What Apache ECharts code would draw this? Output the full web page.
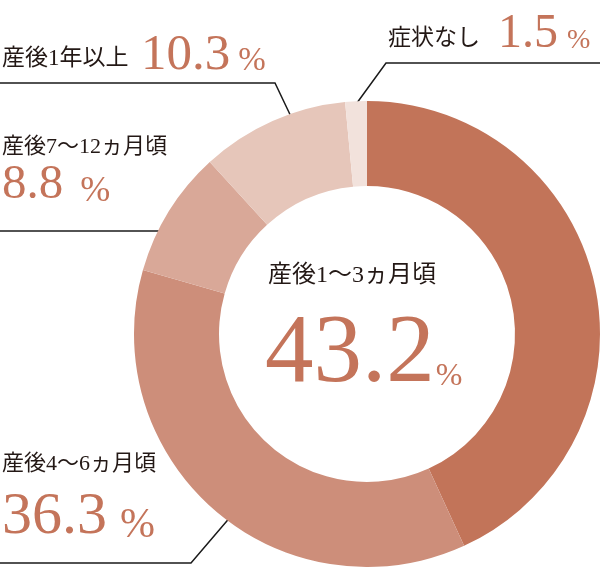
<!DOCTYPE html>
<html><head><meta charset="utf-8">
<script src="https://cdn.jsdelivr.net/npm/echarts@6/dist/echarts.min.js"></script>
<style>html,body{margin:0;padding:0;background:#fff}#c{width:600px;height:567px}</style>
</head><body><div id="c"></div>
<script>
// ---- data ----
const categories = ['産後1〜3ヵ月頃', '産後4〜6ヵ月頃', '産後7〜12ヵ月頃', '産後1年以上', '症状なし'];
const values = [43.2, 36.3, 8.8, 10.3, 1.5];
const valueTexts = ['43.2', '36.3', '8.8', '10.3', '1.5'];
const percentSign = '%';

// ---- styles / layout ----
const sliceColors = ['#c27459', '#cd8e7a', '#d9a898', '#e6c6ba', '#f2e2dc'];
const FONT = '"Liberation Serif","Noto Sans CJK JP",serif';
const INK = '#231815';
const NUM = '#c4745a';

const labelPos = [
  { x: 265, y: 245 },
  { x: 2, y: 441 },
  { x: 2, y: 134 },
  { x: 2, y: 37 },
  { x: 388, y: 20 }
];
const leaderPoints = [
  null,
  [[232, 515], [191, 563], [0, 563]],
  [[191, 231], [100, 231], [0, 231]],
  [[295, 125], [275, 83], [0, 83]],
  [[354, 107], [386, 63], [600, 63]]
];
const twoLine = [true, true, true, false, false];

function tok(fs, lh, color, va, extra) {
  return Object.assign({ fontSize: fs, lineHeight: lh, color: color, fontFamily: FONT, verticalAlign: va }, extra || {});
}
const rich = {
  n0: tok(24, 62, INK, 'middle', { padding: [0, 0, 0, 3] }),
  v0: tok(97, 97, NUM, 'bottom'),
  p0: tok(32, 53, NUM, 'bottom', { padding: [0, 0, 11, 1] }),
  n1: tok(22, 46, INK, 'middle'),
  v1: tok(60, 60, NUM, 'bottom'),
  p1: tok(42, 46, NUM, 'bottom', { padding: [0, 0, 0, 13] }),
  n2: tok(22, 27, INK, 'middle'),
  v2: tok(49, 49, NUM, 'bottom'),
  p2: tok(36, 34, NUM, 'bottom', { padding: [0, 0, 0, 17] }),
  n3: tok(23, 44, INK, 'middle', { width: 139 }),
  v3: tok(51, 44, NUM, 'bottom'),
  p3: tok(33, 38, NUM, 'bottom', { padding: [0, 0, 3, 8] }),
  n4: tok(23, 38, INK, 'middle', { width: 110 }),
  v4: tok(48, 38, NUM, 'bottom'),
  p4: tok(28, 34, NUM, 'bottom', { padding: [0, 0, 3, 9] })
};

const data = categories.map((name, i) => ({
  name: name,
  value: values[i],
  itemStyle: { color: sliceColors[i] },
  labelLine: { show: i !== 0 }
}));

const chart = echarts.init(document.getElementById('c'), null, { renderer: 'canvas' });
chart.setOption({
  animation: false,
  series: [{
    type: 'pie',
    center: [367, 334],
    radius: [148, 233],
    startAngle: 90,
    clockwise: true,
    avoidLabelOverlap: false,
    silent: true,
    data: data,
    label: {
      show: true,
      position: 'outside',
      rich: rich,
      formatter: function (p) {
        const i = p.dataIndex;
        const sep = twoLine[i] ? '\n' : '';
        return '{n' + i + '|' + p.name + '}' + sep + '{v' + i + '|' + valueTexts[i] + '}{p' + i + '|' + percentSign + '}';
      }
    },
    labelLine: {
      show: true,
      lineStyle: { color: '#1a1a1a', width: 1.5 }
    },
    labelLayout: function (params) {
      const i = params.dataIndex;
      const o = { x: labelPos[i].x, y: labelPos[i].y, align: 'left', verticalAlign: 'top' };
      if (leaderPoints[i]) o.labelLinePoints = leaderPoints[i];
      return o;
    }
  }]
});
</script>
</body></html>
